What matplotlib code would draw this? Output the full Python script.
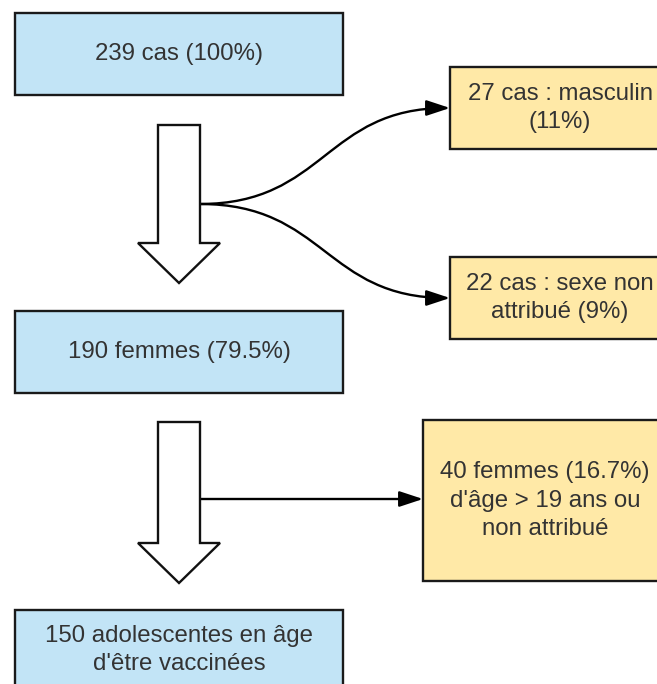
import matplotlib
matplotlib.use("Agg")
import matplotlib.pyplot as plt
from matplotlib.patches import Rectangle, Polygon, FancyArrowPatch
from matplotlib.path import Path

plt.rcParams['font.family'] = ['Liberation Sans', 'DejaVu Sans']

# flow contents
main_labels = ["239 cas (100%)",
               "190 femmes (79.5%)",
               "150 adolescentes en âge\nd'être vaccinées"]
side_labels = ["27 cas : masculin\n(11%)",
               "22 cas : sexe non\nattribué (9%)",
               "40 femmes (16.7%)\nd'âge > 19 ans ou\nnon attribué"]

blue = "#c2e4f6"
yellow = "#ffe9a7"
txt = "#333333"
lw = 1.7
fs = 17.3

fig = plt.figure(figsize=(6.57, 6.84), dpi=100)
ax = fig.add_axes([0, 0, 1, 1])
ax.set_xlim(0, 657)
ax.set_ylim(684, 0)
ax.axis("off")

# boxes: (x0, y0, x1, y1)
main_boxes = [(15, 13, 343, 95), (15, 311, 343, 393), (15, 610, 343, 690)]
side_boxes = [(450, 67, 670, 149), (450, 257, 670, 339), (423, 420, 667, 581)]


def box(b, label, color):
    x0, y0, x1, y1 = b
    ax.add_patch(Rectangle((x0, y0), x1 - x0, y1 - y0, facecolor=color,
                           edgecolor="#1a1a1a", lw=lw, zorder=2))
    ax.text((x0 + x1) / 2, (y0 + y1) / 2, label, ha="center", va="center",
            fontsize=fs, color=txt, linespacing=1.4, zorder=3)


for b, l in zip(main_boxes, main_labels):
    box(b, l, blue)
for b, l in zip(side_boxes, side_labels):
    box(b, l, yellow)


def block_arrow(top, neck, tip):
    pts = [(158, top), (200, top), (200, neck), (220, neck), (179, tip),
           (138, neck), (158, neck)]
    ax.add_patch(Polygon(pts, closed=True, facecolor="white",
                         edgecolor="#111111", lw=lw, zorder=2))


block_arrow(125, 243, 283)
block_arrow(422, 543, 583)

style = "-|>,head_length=1.0,head_width=0.33"


def curve(start, end):
    xm = (start[0] + end[0]) / 2
    p = Path([start, (xm, start[1]), (xm, end[1]), end],
             [Path.MOVETO, Path.CURVE4, Path.CURVE4, Path.CURVE4])
    ax.add_patch(FancyArrowPatch(path=p, arrowstyle=style, mutation_scale=14.4,
                                 color="black", lw=lw, zorder=1))


curve((200, 204), (450, 108))
curve((200, 204), (450, 298))
ax.add_patch(FancyArrowPatch((199, 499), (423, 499), arrowstyle=style,
                             mutation_scale=14.4, color="black", lw=lw,
                             shrinkA=0, shrinkB=0, zorder=1))

fig.savefig("out.png", dpi=100)
